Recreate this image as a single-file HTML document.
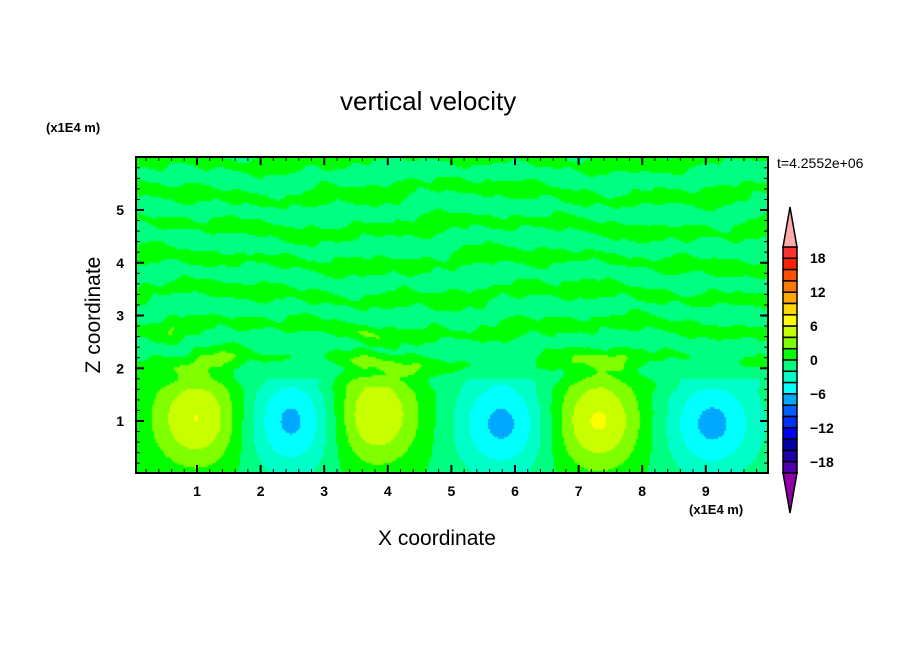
<!DOCTYPE html>
<html><head><meta charset="utf-8"><style>
html,body{margin:0;padding:0;background:#fff;}
#wrap{position:relative;width:904px;height:654px;font-family:"Liberation Sans",sans-serif;}
.t{position:absolute;white-space:nowrap;color:#000;}
canvas{position:absolute;left:136px;top:157px;}
svg{position:absolute;left:0;top:0;}
</style></head><body>
<div id="wrap">
<canvas id="cv" width="632" height="316"></canvas>
<svg id="sv" width="904" height="654"></svg>
<div class="t" style="left:340px;top:86px;font-size:26px;">vertical velocity</div>
<div class="t" style="left:46px;top:120px;font-size:13px;font-weight:bold;">(x1E4 m)</div>
<div class="t" style="left:689px;top:502px;font-size:13px;font-weight:bold;">(x1E4 m)</div>
<div class="t" style="left:777px;top:155px;font-size:14px;">t=4.2552e+06</div>
<div class="t" style="left:378px;top:527px;font-size:21px;">X coordinate</div>
<div class="t" style="left:-6px;top:303px;font-size:21px;transform:rotate(-90deg);transform-origin:center;width:200px;text-align:center;">Z coordinate</div>
</div>
<script>
const cellX=[1.0,2.5,3.8,5.8,7.3,9.1];
const cellZ=[1.05,1.0,1.1,0.95,1.0,0.95];
const cellAmp=[6.5,-6.3,6.5,-6.2,6.7,-6.2];
const xTicks=[1,2,3,4,5,6,7,8,9];
const zTicks=[1,2,3,4,5];
const cbLabels=[18,12,6,0,-6,-12,-18];
const levelColors=["#5000a8","#2000a8","#0000a8","#0000ff","#0030ff","#0060ff","#00a8ff","#00ffff","#00ffc8","#00ff80","#00ff00","#80ff00","#c8ff00","#ffff00","#ffd800","#ffa800","#ff7800","#ff5000","#ff2000","#ff3030"];
const L=136,T=157,W=632,H=316;
function xp(v){return 133.4+63.6*v;}
function zp(v){return 473.75-52.75*v;}
function field(x,z){
  let v=0;
  for(let i=0;i<cellX.length;i++){
    const dx=(x-cellX[i])/0.72, dz=(z-cellZ[i])/0.95;
    v+=cellAmp[i]*Math.exp(-(dx*dx+dz*dz));
  }
  const up=Math.min(1,Math.max(0,(z-1.5)/0.7));
  const ph=z*1.55+0.2*Math.sin(x*1.1+z)+0.08*Math.sin(x*3.7+z*2.3)+0.05*Math.sin(x*9.3+z*6.1)+0.03*Math.sin(x*17+z*11);
  const tex=Math.sin(2*Math.PI*ph)+0.35*Math.sin(x*2.3+z*4.7)+0.25*Math.sin(x*6.1-z*3.1);
  v+= -0.4 + up*(tex*1.3+0.15);
  if(z>1.8) v=Math.max(v,-1.9);
  return v;
}
const cv=document.getElementById('cv'),ctx=cv.getContext('2d');
const S=2;
for(let py=0;py<H;py+=S){for(let px=0;px<W;px+=S){
  const x=(L+px+1-133.4)/63.6, z=(473.75-(T+py+1))/52.75;
  const v=field(x,z);
  let k=Math.floor(v/2)+10; k=Math.max(0,Math.min(19,k));
  ctx.fillStyle=levelColors[k];ctx.fillRect(px,py,S,S);
}}
const sv=document.getElementById('sv'),NS="http://www.w3.org/2000/svg";
function mk(tag,a){const e=document.createElementNS(NS,tag);for(const k in a)e.setAttribute(k,a[k]);sv.appendChild(e);return e;}
const fr=mk('rect',{x:L,y:T,width:W,height:H,fill:'none',stroke:'#000','stroke-width':2});


for(let v=0.2;v<10;v+=0.2){const big=Math.abs(v-Math.round(v))<0.01;const x=xp(v);if(x<L||x>L+W)continue;
  mk('line',{x1:x,x2:x,y1:T+H,y2:T+H-(big?8:4),stroke:'#000','stroke-width':big?2:1});
  mk('line',{x1:x,x2:x,y1:T,y2:T+(big?8:4),stroke:'#000','stroke-width':big?2:1});}
for(let v=0.2;v<6;v+=0.2){const big=Math.abs(v-Math.round(v))<0.01;const y=zp(v);if(y<T||y>T+H)continue;
  mk('line',{x1:L,x2:L+(big?8:4),y1:y,y2:y,stroke:'#000','stroke-width':big?2:1});
  mk('line',{x1:L+W,x2:L+W-(big?8:4),y1:y,y2:y,stroke:'#000','stroke-width':big?2:1});}
xTicks.forEach(v=>{const t=mk('text',{x:xp(v),y:496,'text-anchor':'middle','font-size':14,'font-weight':'bold','font-family':'Liberation Sans'});t.textContent=v;
  
  });
zTicks.forEach(v=>{const t=mk('text',{x:124,y:zp(v)+5,'text-anchor':'end','font-size':14,'font-weight':'bold','font-family':'Liberation Sans'});t.textContent=v;
  
  });
const cbX=783,cbW=14,cbTop=247,bh=11.3;
for(let i=0;i<20;i++){const r=mk('rect',{x:cbX,y:cbTop+i*bh,width:cbW,height:bh,fill:levelColors[19-i],stroke:'#000','stroke-width':1.5});
  
  }
const up=mk('polygon',{points:`${cbX},${cbTop} ${cbX+cbW},${cbTop} ${cbX+cbW/2},207`,fill:'#ffaaaa',stroke:'#000','stroke-width':1.5});


const dn=mk('polygon',{points:`${cbX},${cbTop+20*bh} ${cbX+cbW},${cbTop+20*bh} ${cbX+cbW/2},513`,fill:'#9000a8',stroke:'#000','stroke-width':1.5});


cbLabels.forEach((v,i)=>{const t=mk('text',{x:810,y:263+34*i,'font-size':14,'font-weight':'bold','font-family':'Liberation Sans'});t.textContent=v<0?'\u2212'+(-v):v;
  
  });
</script>
</body></html>
